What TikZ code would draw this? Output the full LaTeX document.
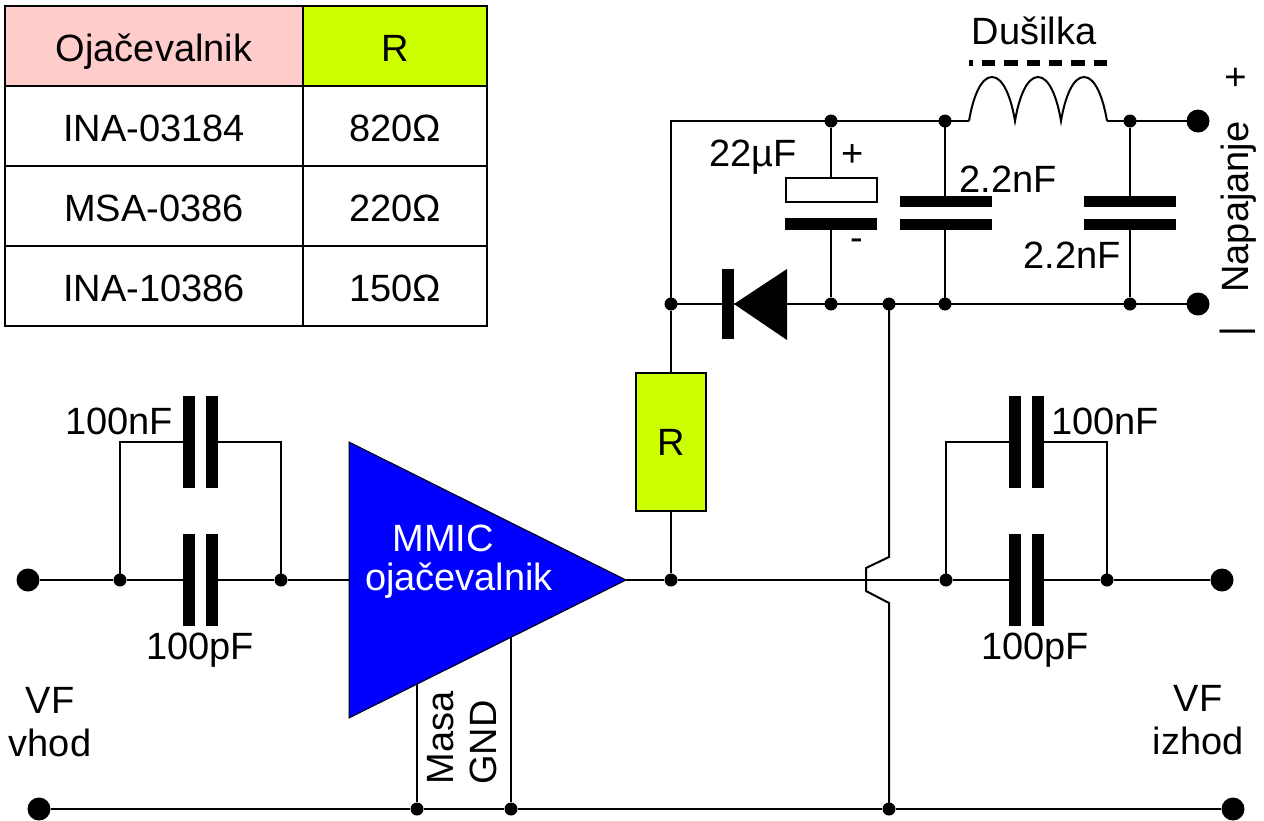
\documentclass[tikz,border=0pt]{standalone}
\usepackage{fontspec}
\setmainfont{Liberation Sans}
\definecolor{pinkhead}{HTML}{FFCCCC}
\definecolor{limehead}{HTML}{CCFF00}
\definecolor{ampblue}{HTML}{0000FF}
\tikzset{
  wire/.style={draw=black,line width=2pt},
  lbl/.style={inner sep=0pt,font=\fontsize{38}{43}\selectfont},
  cell/.style={draw=black,line width=2pt,inner sep=0pt,font=\fontsize{38}{43}\selectfont,text height=31pt,text depth=0pt},
  wcell/.style={cell,minimum width=298pt,minimum height=80pt},
  rcell/.style={cell,minimum width=184pt,minimum height=80pt},
  sdot/.style={circle,fill=black,inner sep=0pt,minimum size=13pt},
  bdot/.style={circle,fill=black,inner sep=0pt,minimum size=23pt},
  hplate/.style={fill=black,inner sep=0pt,minimum width=92pt,minimum height=11.5pt},
  vplate/.style={fill=black,inner sep=0pt,minimum width=12pt,minimum height=92pt},
}
\begin{document}
\begin{tikzpicture}[x=1pt,y=-1pt]
\useasboundingbox (0,0) rectangle (1264,820);
% table
\node[wcell,fill=pinkhead] (t1) at (154,46) {Ojačevalnik};
\node[rcell,fill=limehead] (t2) at (395,46) {R};
\node[wcell] (t3) at (154,126) {INA-03184};
\node[rcell] (t4) at (395,126) {820Ω};
\node[wcell] (t5) at (154,206) {MSA-0386};
\node[rcell] (t6) at (395,206) {220Ω};
\node[wcell] (t7) at (154,286) {INA-10386};
\node[rcell] (t8) at (395,286) {150Ω};
% junction points
\coordinate (tl) at (671,121);
\node[sdot] (a1) at (831,121) {};
\node[sdot] (a2) at (945,121) {};
\coordinate (l1) at (969,121);
\coordinate (l2) at (1015,121);
\coordinate (l3) at (1061,121);
\coordinate (l4) at (1107,121);
\node[sdot] (a3) at (1130,121) {};
\node[bdot] (a4) at (1198,121) {};
\node[sdot] (b0) at (671,304) {};
\node[sdot] (b1) at (831,304) {};
\node[sdot] (b2) at (889,304) {};
\node[sdot] (b3) at (945,304) {};
\node[sdot] (b4) at (1130,304) {};
\node[bdot] (b5) at (1198,304) {};
% power wiring
\draw[wire] (b0.center) -- (tl) -- (a1.center) -- (a2.center) -- (l1);
\draw[wire] (l1) .. controls (973,97) and (981,77) .. (992,77) .. controls (1003,77) and (1011,97) .. (l2)
                 .. controls (1019,97) and (1027,77) .. (1038,77) .. controls (1049,77) and (1057,97) .. (l3)
                 .. controls (1065,97) and (1073,77) .. (1084,77) .. controls (1095,77) and (1103,97) .. (l4);
\draw[wire] (l4) -- (a3.center) -- (a4.center);
\draw[wire] (b0.center) -- (b1.center) -- (b5.center);
% inductor core
\coordinate (c1) at (969,63);
\coordinate (c2) at (1107,63);
\draw[line width=6.5pt,dash pattern=on 4pt off 9pt on 13.3pt off 9pt on 13.3pt off 9pt on 13.3pt off 9pt on 13.3pt off 9pt on 13.3pt off 9pt on 13.3pt off 9pt] (c1) -- (c2);
% electrolytic
\node[draw=black,line width=2pt,fill=white,inner sep=0pt,minimum width=91pt,minimum height=24pt] (e1) at (831,190) {};
\node[hplate] (e2) at (831,224) {};
\draw[wire] (a1) -- (e1);
\draw[wire] (e2) -- (b1);
% 2.2nF caps
\node[hplate] (f1) at (946,201.5) {};
\node[hplate] (f2) at (946,224.5) {};
\draw[wire] (a2.center) -- (a2 |- f1.north);
\draw[wire] (a2 |- f2.south) -- (b3.center);
\node[hplate] (g1) at (1130,201.5) {};
\node[hplate] (g2) at (1130,224.5) {};
\draw[wire] (a3) -- (g1);
\draw[wire] (g2) -- (b4);
% diode
\node[fill=black,inner sep=0pt,minimum width=12pt,minimum height=70pt] (d1) at (728,304) {};
\coordinate (d2) at (734,304);
\coordinate (d3) at (787,269);
\coordinate (d4) at (787,340);
\fill[black] (d2) -- (d3) -- (d4) -- cycle;
% amplifier
\coordinate (ampA) at (349,442);
\coordinate (ampB) at (349,718);
\coordinate (ampC) at (626,580);
\filldraw[fill=ampblue,draw=black,line width=1pt] (ampA) -- (ampB) -- (ampC) -- cycle;
\node[lbl,text=white] (mm1) at (443,538) {MMIC};
\node[lbl,text=white] (mm2) at (459,581) {ojačevalnik};
% input
\node[bdot] (i0) at (28,580) {};
\node[sdot] (i1) at (120,580) {};
\node[sdot] (i2) at (281,580) {};
\coordinate (ia) at (349,580);
\coordinate (iu1) at (120,442);
\coordinate (iu2) at (281,442);
\node[vplate] (ic1) at (189,442) {};
\node[vplate] (ic2) at (212,442) {};
\node[vplate] (ic3) at (189,580) {};
\node[vplate] (ic4) at (212,580) {};
\draw[wire] (i0) -- (i1) -- (ic3);
\draw[wire] (ic4) -- (i2) -- (ia);
\draw[wire] (i1.center) -- (iu1) -- (ic1);
\draw[wire] (i2.center) -- (iu2) -- (ic2);
% output
\node[sdot] (o0) at (671,580) {};
\node[sdot] (o1) at (946,580) {};
\node[sdot] (o2) at (1107,580) {};
\node[bdot] (o3) at (1222,580) {};
\coordinate (ou1) at (946,442);
\coordinate (ou2) at (1107,442);
\node[vplate] (oc1) at (1015,442) {};
\node[vplate] (oc2) at (1038,442) {};
\node[vplate] (oc3) at (1015,580) {};
\node[vplate] (oc4) at (1038,580) {};
\draw[wire] (ampC) -- (o0) -- (o1) -- (oc3);
\draw[wire] (oc4) -- (o2) -- (o3);
\draw[wire] (o1.center) -- (ou1) -- (oc1);
\draw[wire] (o2.center) -- (ou2) -- (oc2);
% resistor
\node[draw=black,line width=2pt,fill=limehead,inner sep=0pt,minimum width=70pt,minimum height=138pt,font=\fontsize{38}{43}\selectfont] (R) at (671,442) {R};
\draw[wire] (b0) -- (R);
\draw[wire] (R) -- (o0);
% ground
\node[bdot] (g0) at (39,809) {};
\node[sdot] (g3) at (417,809) {};
\node[sdot] (g4) at (511,809) {};
\node[sdot] (g5) at (889,809) {};
\node[bdot] (g6) at (1233,809) {};
\draw[wire] (g0) -- (g3) -- (g4) -- (g5) -- (g6);
\coordinate (am1) at (417,684);
\coordinate (am2) at (511,637);
\draw[wire] (am1) -- (g3);
\draw[wire] (am2) -- (g4);
% jump
\coordinate (j1) at (889,557);
\coordinate (j2) at (866,568);
\coordinate (j3) at (866,591);
\coordinate (j4) at (889,603);
\draw[wire,line join=miter] (b2.center) -- (j1) -- (j2) -- (j3) -- (j4) -- (g5.center);
% labels
\node[lbl] (n1) at (1034,31) {Dušilka};
\node[lbl] (n2) at (753,157) {22µF};
\node[lbl] (n3) at (853,156) {+};
\node[lbl] (n4) at (857,245) {-};
\node[lbl] (n5) at (1008,179) {2.2nF};
\node[lbl] (n6) at (1072,255) {2.2nF};
\node[lbl,rotate=90] (n7) at (1239,207) {Napajanje};
\node[lbl,rotate=90] (n8) at (1238,77) {+};
\node[lbl,rotate=90] (n9) at (1238,332) {|};
\node[lbl] (n10) at (119,421) {100nF};
\node[lbl] (n11) at (200,650) {100pF};
\node[lbl] (n12) at (1105,421) {100nF};
\node[lbl] (n13) at (1035,650) {100pF};
\node[lbl,align=center] (n14) at (50,722) {VF\\vhod};
\node[lbl,align=center] (n15) at (1198,720) {VF\\izhod};
\node[lbl,rotate=90] (n16) at (441,738) {Masa};
\node[lbl,rotate=90] (n17) at (483,742.5) {GND};
\end{tikzpicture}
\end{document}
